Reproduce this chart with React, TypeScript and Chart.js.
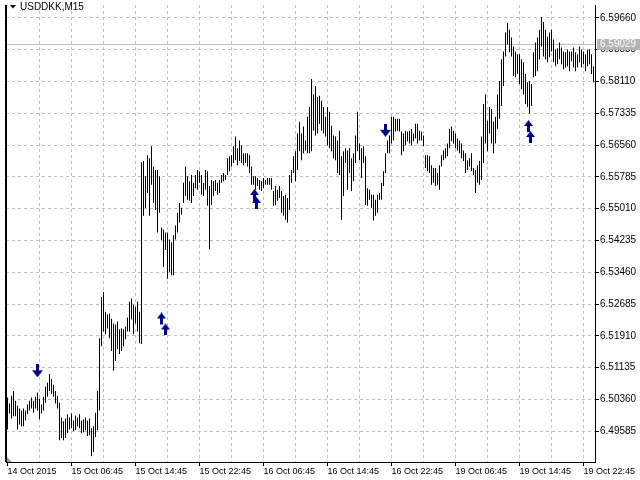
import React, { useEffect, useRef } from "react";
import { Chart, registerables } from "chart.js";

Chart.register(...registerables);

// ---- data (USDDKK, M15) ----
const symbolTitle = "USDDKK,M15";
const bidPrice = 6.59029;

const xTickLabels = [
  "14 Oct 2015", "15 Oct 06:45", "15 Oct 14:45", "15 Oct 22:45", "16 Oct 06:45",
  "16 Oct 14:45", "16 Oct 22:45", "19 Oct 06:45", "19 Oct 14:45", "19 Oct 22:45",
];

const yTickValues = [
  6.5966, 6.58885, 6.5811, 6.57335, 6.5656, 6.55785, 6.5501,
  6.54235, 6.5346, 6.52685, 6.5191, 6.51135, 6.5036, 6.49585,
];

const highs = [
  6.5041, 6.5026, 6.5045, 6.5057, 6.5033, 6.5021, 6.5014, 6.5009, 6.5014, 6.5009,
  6.5024, 6.5033, 6.5041, 6.5033, 6.5043, 6.5053, 6.5038, 6.5024, 6.5043, 6.5067,
  6.5077, 6.5098, 6.5086, 6.5072, 6.5057, 6.5045, 6.5028, 6.4992, 6.4983, 6.4990,
  6.5000, 6.4992, 6.5002, 6.4985, 6.4997, 6.4992, 6.5000, 6.4985, 6.4988, 6.4992,
  6.4985, 6.4990, 6.4966, 6.4971, 6.5004, 6.5057, 6.5185, 6.5286, 6.5298, 6.5250,
  6.5243, 6.5245, 6.5233, 6.5221, 6.5219, 6.5226, 6.5207, 6.5209, 6.5207, 6.5214,
  6.5236, 6.5274, 6.5282, 6.5267, 6.5262, 6.5274, 6.5250, 6.5614, 6.5617, 6.5580,
  6.5631, 6.5624, 6.5653, 6.5604, 6.5595, 6.5595, 6.5580, 6.5455, 6.5450, 6.5443,
  6.5443, 6.5426, 6.5419, 6.5436, 6.5460, 6.5491, 6.5515, 6.5503, 6.5564, 6.5604,
  6.5580, 6.5568, 6.5583, 6.5564, 6.5583, 6.5595, 6.5592, 6.5583, 6.5564, 6.5595,
  6.5592, 6.5556, 6.5571, 6.5568, 6.5571, 6.5564, 6.5571, 6.5583, 6.5588, 6.5583,
  6.5624, 6.5629, 6.5631, 6.5653, 6.5677, 6.5648, 6.5667, 6.5655, 6.5636, 6.5636,
  6.5636, 6.5631, 6.5604, 6.5580, 6.5580, 6.5576, 6.5571, 6.5568, 6.5576, 6.5571,
  6.5576, 6.5576, 6.5576, 6.5544, 6.5556, 6.5547, 6.5556, 6.5544, 6.5532, 6.5535,
  6.5527, 6.5583, 6.5595, 6.5629, 6.5641, 6.5684, 6.5713, 6.5684, 6.5701, 6.5667,
  6.5725, 6.5749, 6.5817, 6.5780, 6.5800, 6.5773, 6.5776, 6.5764, 6.5749, 6.5725,
  6.5749, 6.5737, 6.5703, 6.5679, 6.5677, 6.5667, 6.5691, 6.5629, 6.5641, 6.5648,
  6.5643, 6.5648, 6.5624, 6.5636, 6.5679, 6.5737, 6.5660, 6.5648, 6.5653, 6.5629,
  6.5551, 6.5547, 6.5535, 6.5535, 6.5523, 6.5535, 6.5539, 6.5564, 6.5592, 6.5636,
  6.5667, 6.5679, 6.5725, 6.5725, 6.5720, 6.5720, 6.5720, 6.5689, 6.5684, 6.5691,
  6.5689, 6.5691, 6.5696, 6.5684, 6.5708, 6.5708, 6.5691, 6.5689, 6.5679, 6.5631,
  6.5631, 6.5629, 6.5607, 6.5600, 6.5600, 6.5588, 6.5607, 6.5631, 6.5643, 6.5648,
  6.5660, 6.5696, 6.5701, 6.5691, 6.5684, 6.5672, 6.5667, 6.5660, 6.5643, 6.5636,
  6.5619, 6.5624, 6.5636, 6.5600, 6.5595, 6.5607, 6.5617, 6.5677, 6.5756, 6.5780,
  6.5715, 6.5749, 6.5744, 6.5713, 6.5725, 6.5780, 6.5812, 6.5865, 6.5884, 6.5930,
  6.5954, 6.5937, 6.5918, 6.5896, 6.5884, 6.5877, 6.5877, 6.5865, 6.5858, 6.5829,
  6.5809, 6.5812, 6.5805, 6.5882, 6.5906, 6.5918, 6.5937, 6.5968, 6.5956, 6.5937,
  6.5920, 6.5930, 6.5937, 6.5913, 6.5889, 6.5891, 6.5906, 6.5894, 6.5884, 6.5882,
  6.5889, 6.5884, 6.5884, 6.5894, 6.5882, 6.5877, 6.5896, 6.5889, 6.5884, 6.5877,
  6.5889, 6.5889, 6.5877, 6.5848,
];

const lows = [
  6.4963, 6.5002, 6.4990, 6.4995, 6.4995, 6.4963, 6.4975, 6.4971, 6.4971, 6.4985,
  6.5000, 6.5009, 6.5014, 6.5004, 6.5014, 6.5009, 6.4988, 6.5002, 6.5009, 6.5028,
  6.5043, 6.5057, 6.5050, 6.5043, 6.5026, 6.5014, 6.4937, 6.4942, 6.4937, 6.4942,
  6.4954, 6.4963, 6.4966, 6.4959, 6.4961, 6.4971, 6.4966, 6.4954, 6.4956, 6.4961,
  6.4947, 6.4949, 6.4898, 6.4908, 6.4944, 6.4961, 6.5009, 6.5166, 6.5202, 6.5195,
  6.5209, 6.5185, 6.5154, 6.5106, 6.5130, 6.5159, 6.5147, 6.5154, 6.5166, 6.5183,
  6.5202, 6.5202, 6.5231, 6.5195, 6.5221, 6.5202, 6.5173, 6.5171, 6.5484, 6.5503,
  6.5539, 6.5484, 6.5559, 6.5515, 6.5498, 6.5443, 6.5491, 6.5424, 6.5359, 6.5400,
  6.5330, 6.5347, 6.5339, 6.5339, 6.5426, 6.5443, 6.5467, 6.5486, 6.5515, 6.5532,
  6.5523, 6.5520, 6.5515, 6.5532, 6.5551, 6.5547, 6.5564, 6.5535, 6.5532, 6.5547,
  6.5508, 6.5402, 6.5510, 6.5532, 6.5544, 6.5535, 6.5539, 6.5564, 6.5568, 6.5571,
  6.5583, 6.5592, 6.5604, 6.5612, 6.5619, 6.5607, 6.5617, 6.5612, 6.5607, 6.5612,
  6.5604, 6.5588, 6.5559, 6.5559, 6.5547, 6.5556, 6.5547, 6.5544, 6.5551, 6.5559,
  6.5559, 6.5559, 6.5547, 6.5508, 6.5510, 6.5520, 6.5527, 6.5491, 6.5484, 6.5474,
  6.5467, 6.5498, 6.5564, 6.5588, 6.5568, 6.5595, 6.5641, 6.5619, 6.5636, 6.5643,
  6.5636, 6.5636, 6.5641, 6.5691, 6.5679, 6.5684, 6.5708, 6.5691, 6.5684, 6.5677,
  6.5655, 6.5648, 6.5641, 6.5624, 6.5619, 6.5588, 6.5583, 6.5474, 6.5532, 6.5612,
  6.5547, 6.5588, 6.5544, 6.5568, 6.5612, 6.5641, 6.5619, 6.5576, 6.5612, 6.5510,
  6.5508, 6.5523, 6.5503, 6.5472, 6.5484, 6.5491, 6.5523, 6.5523, 6.5556, 6.5588,
  6.5636, 6.5636, 6.5660, 6.5667, 6.5689, 6.5691, 6.5689, 6.5631, 6.5641, 6.5655,
  6.5665, 6.5660, 6.5655, 6.5665, 6.5672, 6.5660, 6.5667, 6.5667, 6.5653, 6.5600,
  6.5592, 6.5588, 6.5559, 6.5564, 6.5556, 6.5559, 6.5547, 6.5604, 6.5619, 6.5624,
  6.5629, 6.5648, 6.5665, 6.5660, 6.5648, 6.5643, 6.5636, 6.5624, 6.5617, 6.5588,
  6.5595, 6.5604, 6.5592, 6.5583, 6.5539, 6.5564, 6.5559, 6.5571, 6.5612, 6.5660,
  6.5641, 6.5684, 6.5660, 6.5636, 6.5660, 6.5696, 6.5720, 6.5751, 6.5800, 6.5872,
  6.5901, 6.5882, 6.5872, 6.5824, 6.5821, 6.5829, 6.5805, 6.5792, 6.5780, 6.5756,
  6.5749, 6.5732, 6.5751, 6.5821, 6.5824, 6.5836, 6.5865, 6.5896, 6.5872, 6.5865,
  6.5858, 6.5870, 6.5884, 6.5858, 6.5848, 6.5853, 6.5865, 6.5853, 6.5841, 6.5845,
  6.5848, 6.5836, 6.5860, 6.5845, 6.5836, 6.5845, 6.5858, 6.5845, 6.5853, 6.5836,
  6.5848, 6.5853, 6.5829, 6.5809,
];

// signal arrows: bar index, price, kind
const arrowIndex = [15, 78, 124, 189, 261];
const arrowPrice = [6.5106, 6.522, 6.5525, 6.5692, 6.5689];
const arrowKind = ["down", "upA", "upB", "down", "upC"];

const yMin = 6.48837;
const yMax = 6.59973;

const FONT = '"Liberation Sans", Arial, sans-serif';
const ARROW_COLOR = "#00008b";

function drawUp(c: CanvasRenderingContext2D, ox: number, oy: number) {
  c.beginPath();
  c.moveTo(ox + 4.5, oy);
  c.lineTo(ox + 9, oy + 6);
  c.lineTo(ox + 6, oy + 6);
  c.lineTo(ox + 6, oy + 12);
  c.lineTo(ox + 3, oy + 12);
  c.lineTo(ox + 3, oy + 6);
  c.lineTo(ox, oy + 6);
  c.closePath();
  c.fill();
}

function makeCanvas(w: number, h: number, draw: (c: CanvasRenderingContext2D) => void) {
  const cv = document.createElement("canvas");
  cv.width = w;
  cv.height = h;
  const c = cv.getContext("2d")!;
  c.fillStyle = ARROW_COLOR;
  draw(c);
  return cv;
}

export default function App() {
  const ref = useRef<HTMLCanvasElement>(null);

  useEffect(() => {
    if (!ref.current) return;

    const downImg = makeCanvas(11, 13, (c) => {
      c.fillRect(4, 0, 3, 7);
      c.beginPath();
      c.moveTo(0, 6);
      c.lineTo(11, 6);
      c.lineTo(5.5, 13);
      c.closePath();
      c.fill();
    });
    const upA = makeCanvas(13, 23, (c) => { drawUp(c, 0, 0); drawUp(c, 4, 11); });
    const upB = makeCanvas(11, 20, (c) => { drawUp(c, 0, 0); drawUp(c, 2, 8); });
    const upC = makeCanvas(11, 23, (c) => { drawUp(c, 0, 0); drawUp(c, 2, 11); });
    const styles: Record<string, HTMLCanvasElement> = { down: downImg, upA, upB, upC };

    const barData = highs.map((h, i) => ({ x: i, y: [lows[i], h] }));
    const arrowData = arrowIndex.map((x, i) => ({ x, y: arrowPrice[i] }));

    const xTickValues: number[] = [];
    for (let v = 0; v <= 288; v += 16) xTickValues.push(v);

    const decor = {
      id: "decor",
      beforeDatasetsDraw(chart: any) {
        const { ctx, chartArea: a, scales } = chart;
        const py = Math.round(scales.y.getPixelForValue(bidPrice)) + 0.5;
        ctx.save();
        ctx.strokeStyle = "#c0c0c0";
        ctx.lineWidth = 1;
        ctx.beginPath();
        ctx.moveTo(a.left, py);
        ctx.lineTo(a.right, py);
        ctx.stroke();
        ctx.restore();
      },
      afterDraw(chart: any) {
        const { ctx, chartArea: a, scales } = chart;
        ctx.save();
        ctx.fillStyle = "#000";
        ctx.fillRect(a.left - 1, a.top, 2, a.bottom - a.top);
        // corner marker
        ctx.fillStyle = "#a0a0a0";
        ctx.beginPath();
        ctx.moveTo(a.left + 1, a.bottom - 5);
        ctx.lineTo(a.left + 1, a.bottom);
        ctx.lineTo(a.left + 6, a.bottom);
        ctx.closePath();
        ctx.fill();
        // title
        ctx.fillStyle = "#000";
        ctx.beginPath();
        ctx.moveTo(10, 5);
        ctx.lineTo(16, 5);
        ctx.lineTo(13, 8.5);
        ctx.closePath();
        ctx.fill();
        ctx.font = `10px ${FONT}`;
        ctx.textBaseline = "middle";
        ctx.textAlign = "left";
        ctx.fillText(symbolTitle, 20, 7);
        // bid label
        const py = Math.round(scales.y.getPixelForValue(bidPrice));
        ctx.fillStyle = "#b4b4b4";
        ctx.fillRect(a.right + 2, py - 5, chart.width - a.right - 2, 11);
        ctx.fillStyle = "#fff";
        ctx.fillText(bidPrice.toFixed(5), a.right + 5, py + 0.5);
        ctx.restore();
      },
    };

    const chart = new Chart(ref.current, {
      type: "bar",
      data: {
        datasets: [
          {
            type: "line",
            data: arrowData,
            showLine: false,
            order: 0,
            pointStyle: arrowKind.map((k) => styles[k]),
            pointRadius: 5,
            pointBorderWidth: 0,
          } as any,
          {
            type: "bar",
            data: barData,
            order: 1,
            backgroundColor: "#000",
            borderWidth: 0,
            barThickness: 1,
            inflateAmount: 0,
            grouped: false,
          } as any,
        ],
      },
      options: {
        animation: false,
        responsive: false,
        events: [],
        layout: { padding: { left: 6, top: 0, right: 0, bottom: 0 } },
        plugins: { legend: { display: false }, tooltip: { enabled: false } },
        scales: {
          x: {
            type: "linear",
            min: -0.75,
            max: 293.75,
            offset: false,
            bounds: "data",
            afterBuildTicks: (s: any) => {
              s.ticks = xTickValues.map((v) => ({ value: v }));
            },
            afterFit: (s: any) => {
              s.height = 18;
              s.paddingLeft = 0;
              s.paddingRight = 0;
            },
            ticks: {
              autoSkip: false,
              maxRotation: 0,
              minRotation: 0,
              align: "start",
              padding: 0,
              color: "#000",
              font: { family: FONT, size: 9 },
              callback: (v: any) => (Number(v) % 32 === 0 ? xTickLabels[Number(v) / 32] : ""),
            },
            grid: {
              offset: false,
              color: (c: any) => (c.tick && c.tick.value === 0 ? "rgba(0,0,0,0)" : "#c0c0c0"),
              lineWidth: 1,
              drawTicks: true,
              tickLength: 4,
              tickWidth: 1,
              tickColor: (c: any) => (c.tick && c.tick.value % 32 === 0 ? "#000" : "rgba(0,0,0,0)"),
            },
            border: { display: true, color: "#000", width: 1, dash: [3, 3] },
          } as any,
          y: {
            type: "linear",
            position: "right",
            min: yMin,
            max: yMax,
            beginAtZero: false,
            bounds: "data",
            afterBuildTicks: (s: any) => {
              s.ticks = yTickValues.map((v) => ({ value: v }));
            },
            afterFit: (s: any) => {
              s.width = 45;
              s.paddingTop = 0;
              s.paddingBottom = 0;
            },
            ticks: {
              padding: 1,
              color: "#000",
              font: { family: FONT, size: 10 },
              callback: (v: any) => Number(v).toFixed(5),
            },
            grid: {
              color: "#c0c0c0",
              lineWidth: 1,
              drawTicks: true,
              tickLength: 4,
              tickWidth: 1,
              tickColor: "#000",
            },
            border: { display: true, color: "#000", width: 1, dash: [3, 3] },
          } as any,
        },
      },
      plugins: [decor],
    });

    return () => chart.destroy();
  }, []);

  return (
    <canvas
      ref={ref}
      width={640}
      height={480}
      style={{ position: "absolute", left: 0, top: 0, display: "block", background: "#fff" }}
    />
  );
}
